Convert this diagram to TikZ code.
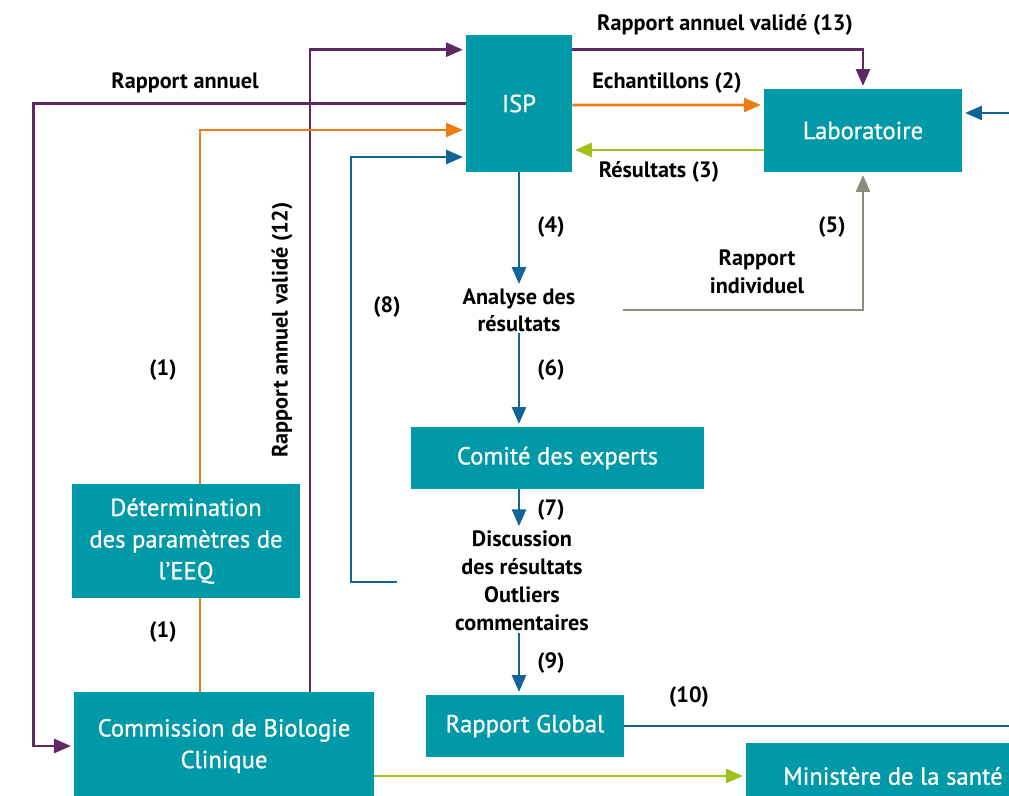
\documentclass[tikz,border=0pt]{standalone}
\usepackage{fontspec}
\setmainfont{PT Sans}
\newfontfamily\boxfont{PT Sans}[FakeBold=0.8]
\usetikzlibrary{calc,arrows.meta}
\definecolor{tealbox}{RGB}{0,153,168}
\definecolor{purp}{RGB}{96,40,96}
\definecolor{orng}{RGB}{238,125,17}
\definecolor{lime}{RGB}{157,194,26}
\definecolor{blu}{RGB}{16,100,150}
\definecolor{gry}{RGB}{140,140,122}
\begin{document}
\begin{tikzpicture}[x=0.025cm, y=-0.025cm,
    box/.style={fill=tealbox, text=white, inner sep=0pt, align=center,
      font=\boxfont\fontsize{17.5}{22.5}\selectfont},
    lbl/.style={text=black, inner sep=1pt, align=center,
      font=\bfseries\fontsize{15.8}{20}\selectfont},
    flow/.style={line width=1.8pt, -{Triangle[length=12pt,width=10pt]}, shorten >=2pt},
    line/.style={line width=1.8pt}]
    \useasboundingbox (0,0) rectangle (1009,796);
    \clip (0,0) rectangle (1009,796);

    % Boxes
    \node[box, minimum width=2.65cm, minimum height=3.425cm] (isp) at (519,103.5) {ISP};
    \node[box, minimum width=4.95cm, minimum height=2.075cm] (lab) at (863,130.5) {Laboratoire};
    \node[box, minimum width=7.325cm, minimum height=1.55cm] (comite) at (557.5,458) {Comité des experts};
    \node[box, minimum width=5.7cm, minimum height=2.85cm] (determ) at (186,541) {Détermination\\des paramètres de\\l’EEQ};
    \node[box, minimum width=7.5cm, minimum height=2.7cm] (commission) at (224,746) {Commission de Biologie\\Clinique};
    \node[box, minimum width=4.95cm, minimum height=1.55cm] (global) at (525,726) {Rapport Global};
    \node[box, minimum width=7.35cm, minimum height=1.65cm] (ministere) at (893,776) {Ministère de la santé};

    % Plain text steps
    \node[lbl, font=\bfseries\fontsize{15.8}{19.2}\selectfont] (ana) at (519,310) {Analyse des\\résultats};
    \node[lbl] (disc) at (522,581) {Discussion\\des résultats\\Outliers\\commentaires};

    % Bend positions
    \coordinate (xo) at (200,0);
    \coordinate (xp) at (310,0);
    \coordinate (d8) at (397,582);

    % Purple lines
    \draw[flow, purp] (isp.west) -- ++(-432,0) |- (commission.west);
    \draw[flow, purp] (commission.north -| xp) |- ($(isp.north west)+(0,15)$);
    \draw[flow, purp] ($(isp.north east)+(0,15)$) -| (lab.north);

    % Orange lines
    \draw[line, orng] (determ.south -| xo) -- (commission.north -| xo);
    \draw[flow, orng] (determ.north -| xo) |- ($(isp.west)+(0,26.5)$);
    \draw[flow, orng] ($(isp.east)+(0,1.5)$) -- ($(lab.west)+(0,-25.5)$);

    % Green lines
    \draw[flow, lime] ($(lab.west)+(0,19.5)$) -- ($(isp.east)+(0,46.5)$);
    \draw[flow, lime] (commission.east |- ministere.west) -- (ministere.west);

    % Blue lines
    \draw[flow, blu] (d8) -- ++(-46,0) |- ($(isp.west)+(0,53.5)$);
    \draw[flow, blu] (isp.south) -- (ana.north);
    \draw[flow, blu] (ana.south) -- (comite.north -| ana.south);
    \draw[flow, blu] (comite.south -| ana.south) -- (disc.north -| ana.south);
    \draw[flow, blu] (disc.south -| ana.south) -- (global.north -| ana.south);
    \draw[line, blu] (global.east) -- ++(420,0);
    \draw[flow, blu] ($(lab.east)+(60,-17.5)$) -- ($(lab.east)+(0,-17.5)$);

    % Gray line
    \draw[flow, gry] (ana.east) ++(46,0) -| (lab.south);

    % Labels
    \node[lbl] at (185,83) {Rapport annuel};
    \node[lbl] at (725,25) {Rapport annuel validé (13)};
    \node[lbl] at (667,83) {Echantillons (2)};
    \node[lbl] at (659,172) {Résultats (3)};
    \node[lbl] at (551,227) {(4)};
    \node[lbl] at (832,227) {(5)};
    \node[lbl] at (757,272) {Rapport\\individuel};
    \node[lbl] at (387,307) {(8)};
    \node[lbl] at (163,370) {(1)};
    \node[lbl] at (163,632) {(1)};
    \node[lbl, rotate=90] at (282,330) {Rapport annuel validé (12)};
    \node[lbl] at (551,370) {(6)};
    \node[lbl] at (551,510) {(7)};
    \node[lbl] at (551,663) {(9)};
    \node[lbl] at (689,697) {(10)};
\end{tikzpicture}
\end{document}
